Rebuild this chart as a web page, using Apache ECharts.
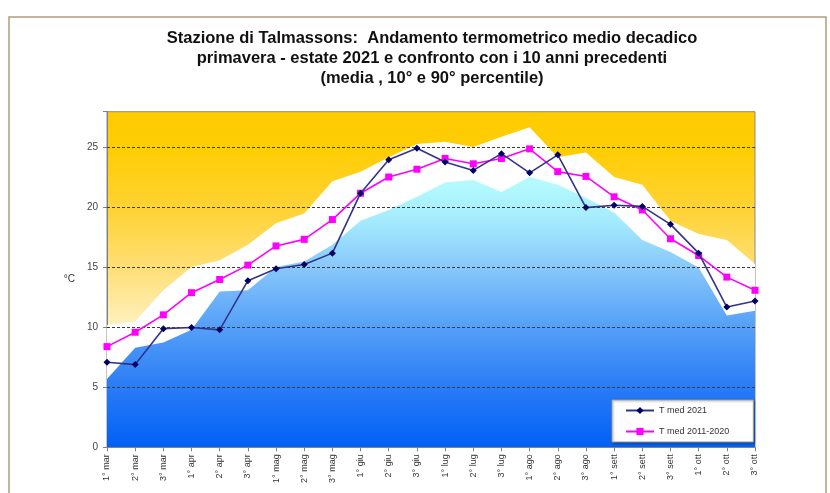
<!DOCTYPE html>
<html>
<head>
<meta charset="utf-8">
<script src="https://cdn.jsdelivr.net/npm/echarts@6/dist/echarts.min.js"></script>
<style>html,body{margin:0;padding:0;background:#fff}#c{width:830px;height:493px}</style>
</head>
<body>
<div id="c"></div>
<script>
var categories = ['1° mar','2° mar','3° mar','1° apr','2° apr','3° apr','1° mag','2° mag','3° mag','1° giu','2° giu','3° giu','1° lug','2° lug','3° lug','1° ago','2° ago','3° ago','1° sett','2° sett','3° sett','1° ott','2° ott','3° ott'];
var tMed2021 = [7.1, 6.9, 9.9, 10.0, 9.8, 13.9, 14.9, 15.25, 16.2, 21.2, 24.0, 24.95, 23.8, 23.1, 24.5, 22.9, 24.4, 20.0, 20.2, 20.1, 18.6, 16.2, 11.7, 12.2];
var tMed20112020 = [8.4, 9.6, 11.05, 12.9, 14.0, 15.2, 16.8, 17.35, 19.0, 21.2, 22.55, 23.2, 24.1, 23.65, 24.1, 24.9, 23.0, 22.6, 20.9, 19.8, 17.4, 16.0, 14.2, 13.1];
var perc90 = [10.2, 10.5, 13.1, 15.05, 15.6, 16.9, 18.7, 19.5, 22.2, 23.0, 24.2, 25.3, 25.5, 25.05, 25.9, 26.7, 24.2, 24.6, 22.55, 21.9, 18.9, 17.8, 17.3, 15.3];
var perc10 = [5.7, 8.3, 8.75, 9.8, 13.0, 13.1, 15.05, 15.5, 16.9, 18.9, 19.8, 20.9, 22.1, 22.3, 21.3, 22.55, 21.9, 20.8, 19.6, 17.3, 16.3, 15.0, 11.0, 11.4];
var yTicks = [0, 5, 10, 15, 20, 25];

var chart = echarts.init(document.getElementById('c'), null, {renderer: 'canvas'});
var FONT = 'Liberation Sans, Arial, sans-serif';
var gridTop = 111.7, gridBottomPx = 447.3;
var gridLines = yTicks.filter(function (v) { return v > 0; }).map(function (v) { return {yAxis: v}; });
var option = {
  animation: false,
  backgroundColor: '#ffffff',
  textStyle: {fontFamily: FONT},
  graphic: [{
    type: 'rect', shape: {x: 9, y: 17, width: 817, height: 490},
    style: {fill: 'none', stroke: '#b09a80', lineWidth: 1.5}, silent: true, z: -1
  }],
  title: {
    text: 'Stazione di Talmassons:  Andamento termometrico medio decadico\nprimavera - estate 2021 e confronto con i 10 anni precedenti\n(media , 10° e 90° percentile)',
    left: 427, top: 23, textAlign: 'center',
    textStyle: {fontFamily: FONT, fontSize: 16.5, fontWeight: 'bold', color: '#111', lineHeight: 20}
  },
  grid: {
    left: 107, right: 75, top: gridTop, bottom: 493 - gridBottomPx,
    show: true, borderColor: '#8a8a8a', borderWidth: 1,
    backgroundColor: new echarts.graphic.LinearGradient(0, 0, 0, 1, [
      {offset: 0, color: '#ffcc00'},
      {offset: 0.12, color: '#ffcd06'},
      {offset: 0.3, color: '#ffd337'},
      {offset: 0.47, color: '#ffdf78'},
      {offset: 0.64, color: '#fff1c2'},
      {offset: 1, color: '#ffffff'}
    ])
  },
  legend: {
    orient: 'vertical', left: 612, top: 400,
    backgroundColor: '#ffffff', borderColor: '#9a9a9a', borderWidth: 1,
    shadowColor: 'rgba(0,0,0,0.35)', shadowBlur: 2, shadowOffsetX: 1, shadowOffsetY: 1,
    padding: [6, 24, 6, 13], itemWidth: 28, itemHeight: 9, itemGap: 12,
    textStyle: {fontFamily: FONT, fontSize: 9, color: '#333'},
    data: ['T med 2021', 'T med 2011-2020']
  },
  xAxis: {
    type: 'category', data: categories, boundaryGap: false,
    axisLine: {lineStyle: {color: '#808080', width: 1}},
    axisTick: {show: true, length: 4, lineStyle: {color: '#808080'}},
    axisLabel: {rotate: 90, interval: 0, fontSize: 9, color: '#333', margin: 7, fontFamily: FONT},
    splitLine: {show: false}
  },
  yAxis: {
    type: 'value', min: 0, max: 28, interval: 5,
    name: '°C', nameLocation: 'middle', nameGap: 32, nameRotate: 0,
    nameTextStyle: {fontSize: 10, color: '#333', fontFamily: FONT},
    axisLine: {show: true, lineStyle: {color: '#808080'}},
    axisTick: {show: true, length: 4, lineStyle: {color: '#808080'}},
    axisLabel: {fontSize: 10, color: '#444', margin: 9, fontFamily: FONT,
      formatter: function (v) { return yTicks.indexOf(v) >= 0 ? String(v) : ''; }},
    splitLine: {show: false}
  },
  series: [
    {
      name: '90° percentile', type: 'line', data: perc90, z: 1,
      symbol: 'none', lineStyle: {width: 0}, areaStyle: {color: '#ffffff', opacity: 1}
    },
    {
      name: '10° percentile', type: 'line', data: perc10, z: 2,
      symbol: 'none', lineStyle: {width: 0},
      areaStyle: {opacity: 1, color: {
        type: 'linear', x: 0, y: gridTop, x2: 0, y2: gridBottomPx, global: true,
        colorStops: [
          {offset: 0, color: '#b8fcff'},
          {offset: 0.22, color: '#b3f9fe'},
          {offset: 0.33, color: '#a4eafd'},
          {offset: 0.47, color: '#86c6fb'},
          {offset: 0.64, color: '#55a0f8'},
          {offset: 0.82, color: '#2a7cf6'},
          {offset: 1, color: '#0060f6'}
        ]}},
      markLine: {
        silent: true, symbol: 'none', label: {show: false},
        lineStyle: {color: '#3a3a3a', type: [3, 2], width: 1.2},
        data: gridLines
      }
    },
    {
      name: 'T med 2011-2020', type: 'line', data: tMed20112020, z: 5,
      symbol: 'rect', symbolSize: 7, showAllSymbol: true,
      lineStyle: {color: '#ff00ff', width: 1.6},
      itemStyle: {color: '#ff00ff'}
    },
    {
      name: 'T med 2021', type: 'line', data: tMed2021, z: 6,
      symbol: 'diamond', symbolSize: 7, showAllSymbol: true,
      lineStyle: {color: '#33338c', width: 1.6},
      itemStyle: {color: '#000066'}
    }
  ]
};
chart.setOption(option);
</script>
</body>
</html>
